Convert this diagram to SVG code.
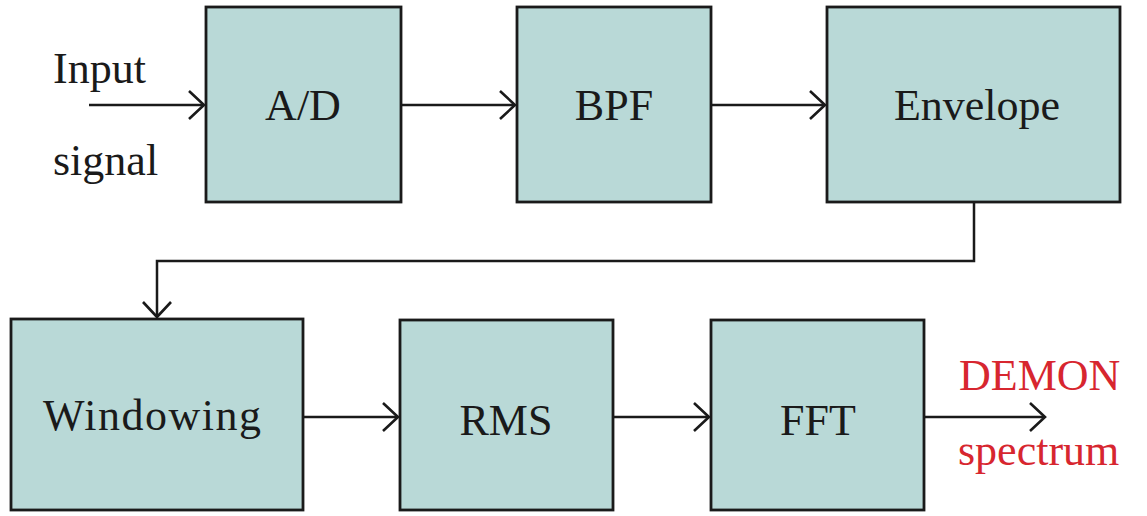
<svg xmlns="http://www.w3.org/2000/svg" width="1147" height="516" viewBox="0 0 1147 516">
<style>
.box{fill:#b9d9d7;stroke:#1a1a1a;stroke-width:2.8}
.lbl{font-family:"Liberation Serif",serif;font-size:44px;fill:#1a1a1a;text-anchor:middle}
.side{font-family:"Liberation Serif",serif;font-size:44px;fill:#1a1a1a}
.red{font-family:"Liberation Serif",serif;font-size:44px;fill:#d7262f}
.conn{fill:none;stroke:#1a1a1a;stroke-width:2.5}
</style>
<defs>
<marker id="arr" viewBox="-18 -17 20 34" markerWidth="20" markerHeight="34" refX="0" refY="0" orient="auto" markerUnits="userSpaceOnUse">
<path d="M-15,-14 L0,0 L-15,14" fill="none" stroke="#1a1a1a" stroke-width="2.6"/>
</marker>
</defs>
<g id="ad"><rect class="box" x="206" y="7" width="195" height="195"/><text class="lbl" x="303" y="120">A/D</text></g>
<g id="bpf"><rect class="box" x="517" y="7" width="194" height="195"/><text class="lbl" x="614" y="120">BPF</text></g>
<g id="envelope"><rect class="box" x="827" y="7" width="293" height="195"/><text class="lbl" x="977" y="120">Envelope</text></g>
<g id="windowing"><rect class="box" x="11" y="319" width="292" height="191"/><text class="lbl" x="152" y="430" textLength="218">Windowing</text></g>
<g id="rms"><rect class="box" x="400" y="320" width="213" height="190"/><text class="lbl" x="506" y="435">RMS</text></g>
<g id="fft"><rect class="box" x="711" y="320" width="213" height="190"/><text class="lbl" x="818" y="435">FFT</text></g>
<g id="input-label"><text class="side" x="53" y="83">Input</text><text class="side" x="53" y="175">signal</text></g>
<g id="output-label"><text class="red" x="959" y="390">DEMON</text><text class="red" x="958" y="465">spectrum</text></g>
<g id="connectors">
<path class="conn" d="M89,105 H204" marker-end="url(#arr)"/>
<path class="conn" d="M401,105 H515" marker-end="url(#arr)"/>
<path class="conn" d="M711,105 H825" marker-end="url(#arr)"/>
<path class="conn" d="M974,202 V261 H157 V317" marker-end="url(#arr)"/>
<path class="conn" d="M303,417 H398" marker-end="url(#arr)"/>
<path class="conn" d="M613,417 H709" marker-end="url(#arr)"/>
<path class="conn" d="M924,417 H1045" marker-end="url(#arr)"/>
</g>
</svg>
